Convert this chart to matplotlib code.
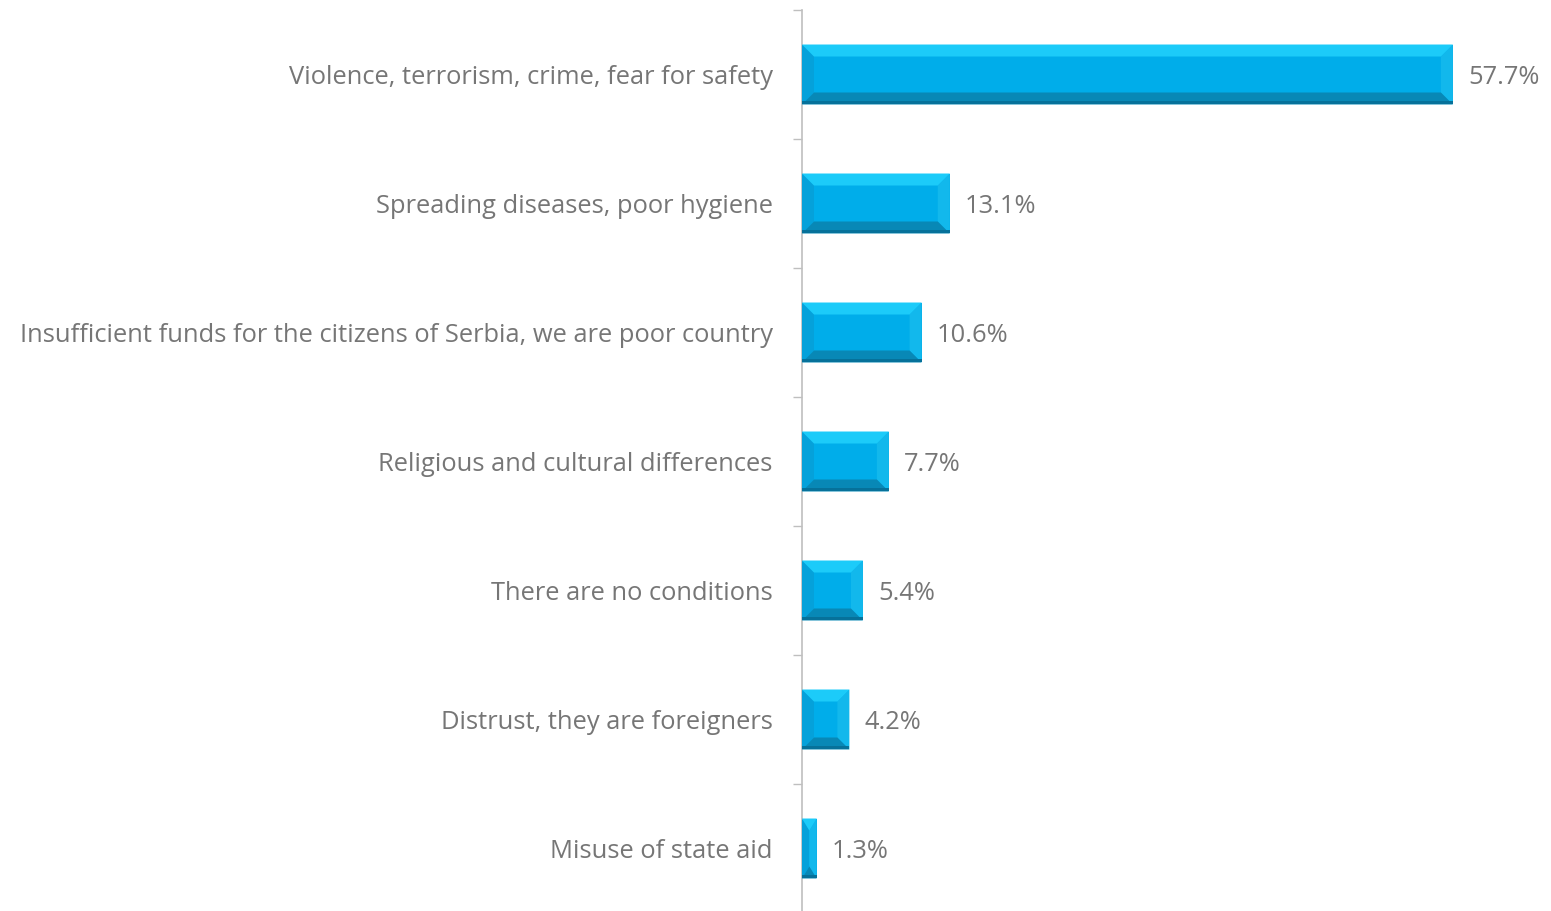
import numpy as np
import matplotlib.pyplot as plt
from matplotlib.patches import Polygon, Rectangle

categories = [
    "Violence, terrorism, crime, fear for safety",
    "Spreading diseases, poor hygiene",
    "Insufficient funds for the citizens of Serbia, we are poor country",
    "Religious and cultural differences",
    "There are no conditions",
    "Distrust, they are foreigners",
    "Misuse of state aid",
]
values = [57.7, 13.1, 10.6, 7.7, 5.4, 4.2, 1.3]

face = "#00ADEA"
top_c = "#1CCBF9"
bottom_c = "#0888B6"
edge_c = "#06719A"
left_c = "#05A1DA"
right_c = "#12B8EC"
text_c = "#767676"

plt.rcParams['font.family'] = ['Open Sans', 'DejaVu Sans']

fig = plt.figure(figsize=(15.51, 9.11), dpi=100)
ax = fig.add_axes([802 / 1551, -2 / 911, 749 / 1551, 903 / 911])

y = np.arange(len(categories))
bars = ax.barh(y, values, height=0.465, color=face, linewidth=0, zorder=2)

ax.set_xlim(0, 749 / 11.28)
ax.set_ylim(len(categories) - 0.5, -0.5)

# bevel widths in data units (about 12 px each way)
bx = 12 / 11.28
by = 12 / 129
for b in bars:
    x0, y0 = b.get_x(), b.get_y()
    w, h = b.get_width(), b.get_height()
    x1, y1 = x0 + w, y0 + h
    ex = min(bx, w / 2)
    ey = min(by, h / 2)
    # inverted y axis: y0 is the top edge on screen
    top = [(x0, y0), (x1, y0), (x1 - ex, y0 + ey), (x0 + ex, y0 + ey)]
    bottom = [(x0, y1), (x1, y1), (x1 - ex, y1 - ey), (x0 + ex, y1 - ey)]
    left = [(x0, y0), (x0 + ex, y0 + ey), (x0 + ex, y1 - ey), (x0, y1)]
    right = [(x1, y0), (x1 - ex, y0 + ey), (x1 - ex, y1 - ey), (x1, y1)]
    for pts, c in [(left, left_c), (right, right_c), (top, top_c), (bottom, bottom_c)]:
        ax.add_patch(Polygon(pts, closed=True, facecolor=c, edgecolor='none', zorder=3))
    # darker rim along the lower edge
    ax.add_patch(Rectangle((x0, y1 - 3 / 129), w, 3 / 129, facecolor=edge_c,
                           edgecolor='none', zorder=4))

for v, yy in zip(values, y):
    ax.text(v + 15 / 11.28, yy + 0.025, f"{v:.1f}%", va='center', ha='left',
            fontsize=18.4, color=text_c)

ax.set_yticks(y)
ax.set_yticklabels(categories, fontsize=18.4, color=text_c)
ax.tick_params(axis='y', which='major', length=0, pad=21)
ax.set_yticks(np.arange(-0.5, len(categories)), minor=True)
ax.tick_params(axis='y', which='minor', length=6.5, width=1, color='#BFBFBF')
ax.set_xticks([])

for s in ['top', 'right', 'bottom']:
    ax.spines[s].set_visible(False)
ax.spines['left'].set_color('#BFBFBF')
ax.spines['left'].set_linewidth(1.2)

fig.savefig("out.png", dpi=100)
